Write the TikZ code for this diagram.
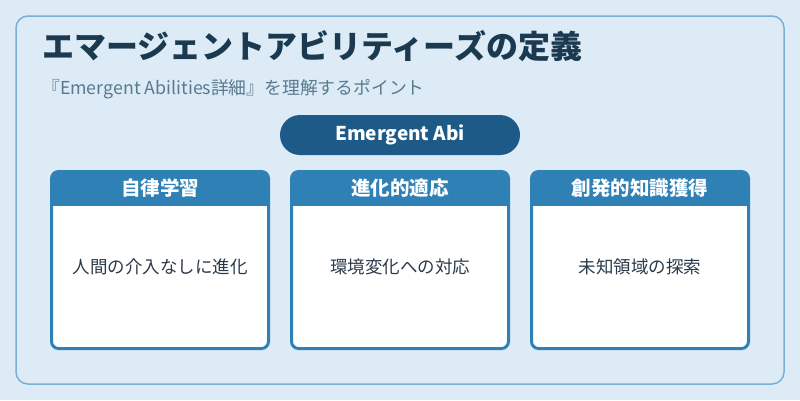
\documentclass[tikz,border=0pt]{standalone}
\usepackage{fontspec}
\setmainfont{Noto Sans CJK JP}
\definecolor{bgc}{HTML}{DCEBF6}
\definecolor{framec}{HTML}{7AB0D4}
\definecolor{titlec}{HTML}{1B3A4F}
\definecolor{subc}{HTML}{5A7A90}
\definecolor{pillc}{HTML}{1E5A87}
\definecolor{headc}{HTML}{2E80B5}
\definecolor{bodyc}{HTML}{2A3A4A}
\tikzset{
  cardline/.style={draw=headc, line width=3pt, rounded corners=7pt},
  headtext/.style={text=white, font=\fontsize{19.5}{21}\selectfont\bfseries, anchor=center, inner sep=0pt},
  bodytext/.style={text=bodyc, font=\fontsize{17.5}{19}\selectfont, anchor=center, inner sep=0pt},
}
\begin{document}
\begin{tikzpicture}[x=1pt,y=-1pt]
\useasboundingbox (0,0) rectangle (800,400);
\fill[bgc] (0,0) rectangle (800,400);
\draw[framec, line width=1.5pt, rounded corners=12pt] (16,16) rectangle (784,384);
\node[anchor=base west, inner sep=0pt, text=titlec, font=\fontsize{32}{34}\selectfont\bfseries] (title) at (42,58) {エマージェントアビリティーズの定義};
\node[anchor=base west, inner sep=0pt, text=subc, font=\fontsize{17.8}{19}\selectfont] (sub) at (42,94) {『Emergent Abilities詳細』を理解するポイント};
\node[fill=pillc, rounded corners=20pt, minimum width=240pt, minimum height=40pt, inner sep=0pt, text=white, font=\fontsize{19}{21}\selectfont\bfseries] (pill) at (400,135) {Emergent Abi};
\foreach \i/\x/\h/\b in {1/50/自律学習/人間の介入なしに進化, 2/290/進化的適応/環境変化への対応, 3/530/創発的知識獲得/未知領域の探索}{
  \fill[white, rounded corners=7pt] (\x+1.5,171.5) rectangle (\x+218.5,348.5);
  \begin{scope}
  \clip[rounded corners=7pt] (\x+1.5,171.5) rectangle (\x+218.5,348.5);
  \fill[headc] (\x,170) rectangle (\x+220,206);
  \end{scope}
  \draw[cardline] (\x+1.5,171.5) rectangle (\x+218.5,348.5);
  \node[headtext] (head\i) at (\x+110,188.5) {\h};
  \node[bodytext] (body\i) at (\x+110,267) {\b};
}
\end{tikzpicture}
\end{document}
